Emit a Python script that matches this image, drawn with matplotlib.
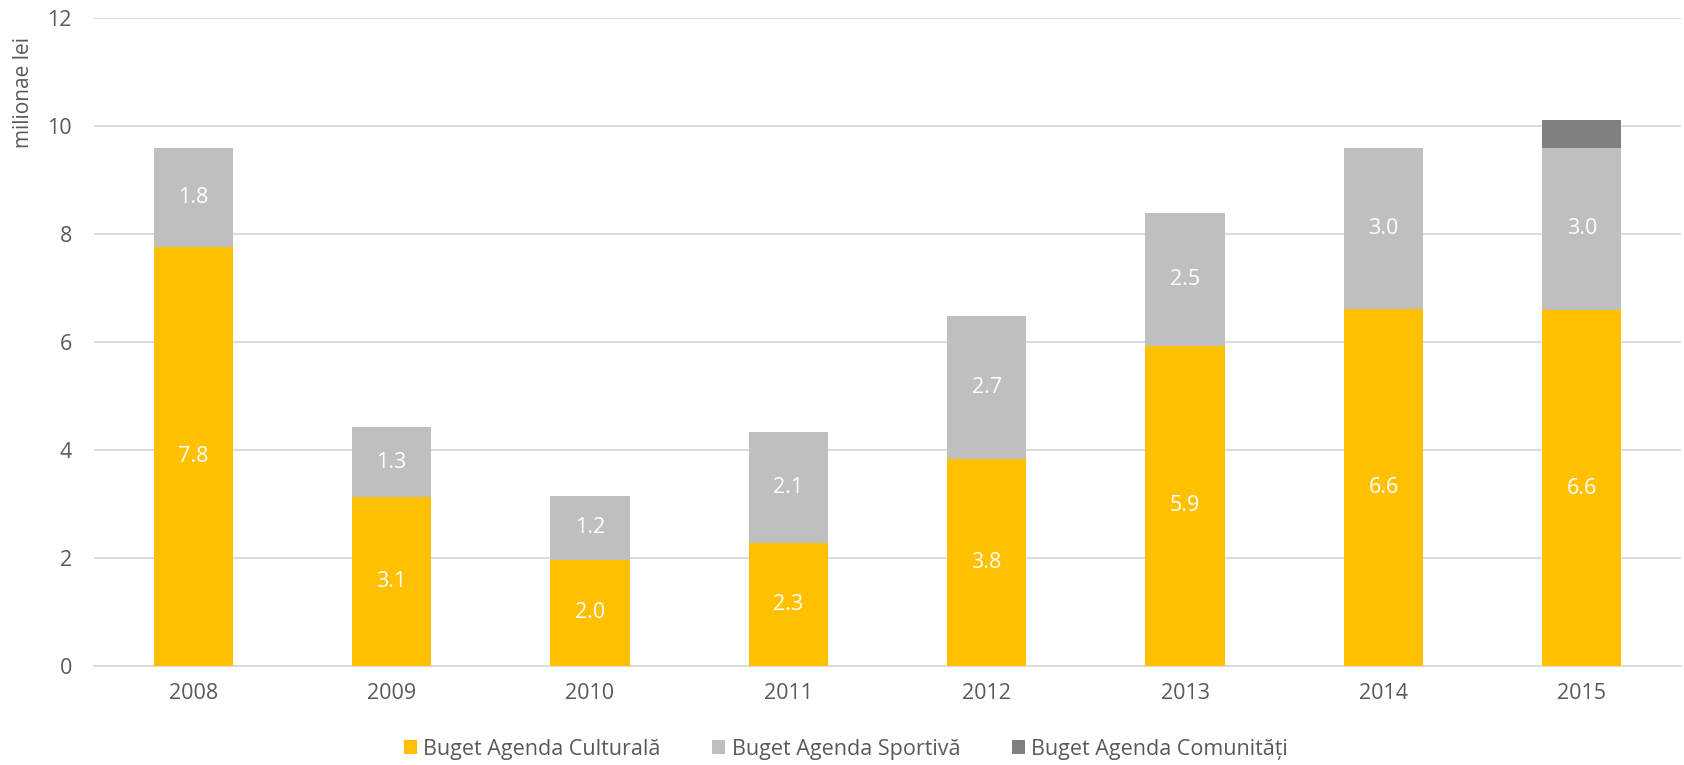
import matplotlib
matplotlib.use('Agg')
import matplotlib.pyplot as plt
import numpy as np

plt.rcParams['font.family'] = ['Open Sans', 'DejaVu Sans']

# date (milioane lei)
ani = ['2008', '2009', '2010', '2011', '2012', '2013', '2014', '2015']
cultura = [7.76, 3.13, 1.97, 2.27, 3.83, 5.93, 6.61, 6.59]
sport = [1.84, 1.29, 1.18, 2.06, 2.66, 2.46, 2.98, 3.01]
comunitate = [0, 0, 0, 0, 0, 0, 0, 0.51]

serii = ['Buget Agenda Culturală', 'Buget Agenda Sportivă', 'Buget Agenda Comunități']
culori = ['#FFC000', '#BFBFBF', '#808080']
text_col = '#595959'
fs = 15.5

fig = plt.figure(figsize=(16.84, 7.65), dpi=100)
ax = fig.add_axes([94 / 1684, 1 - 666 / 765, 1587 / 1684, 648 / 765])

x = np.arange(len(ani))
w = 0.4
b1 = ax.bar(x, cultura, w, color=culori[0], label=serii[0], zorder=3)
b2 = ax.bar(x, sport, w, bottom=cultura, color=culori[1], label=serii[1], zorder=3)
jos = np.array(cultura) + np.array(sport)
b3 = ax.bar(x, comunitate, w, bottom=jos, color=culori[2], label=serii[2], zorder=3)

# etichete valori
for i in range(len(ani)):
    ax.text(x[i], cultura[i] / 2, f'{cultura[i]:.1f}', ha='center', va='center',
            color='white', fontsize=fs, zorder=4)
    ax.text(x[i], cultura[i] + sport[i] / 2, f'{sport[i]:.1f}', ha='center', va='center',
            color='white', fontsize=fs, zorder=4)

ax.set_xlim(-0.5, len(ani) - 0.5)
ax.set_ylim(0, 12)
ax.set_yticks([0, 2, 4, 6, 8, 10, 12])
ax.set_xticks(x)
ax.set_xticklabels(ani)
ax.yaxis.grid(True, color='#D9D9D9', linewidth=1.3, zorder=0)
ax.set_axisbelow(True)
for s in ['top', 'right', 'left']:
    ax.spines[s].set_visible(False)
ax.spines['bottom'].set_color('#D9D9D9')
ax.spines['bottom'].set_linewidth(1.3)
ax.tick_params(axis='both', length=0, colors=text_col, labelsize=fs)
ax.tick_params(axis='x', pad=12)
ax.tick_params(axis='y', pad=16)

fig.text(24 / 1684, 1 - 92 / 765, 'milionae lei', rotation=90, ha='center', va='center',
         color=text_col, fontsize=15)

leg = fig.legend(handles=[b1, b2, b3], labels=serii, loc='center', bbox_to_anchor=(846 / 1684, 1 - 749 / 765),
                 ncol=3, frameon=False, fontsize=fs, handlelength=0.6, handleheight=0.6,
                 handletextpad=0.3, columnspacing=2.4)
for t in leg.get_texts():
    t.set_color(text_col)

fig.savefig('out.png', dpi=100, facecolor='white')
